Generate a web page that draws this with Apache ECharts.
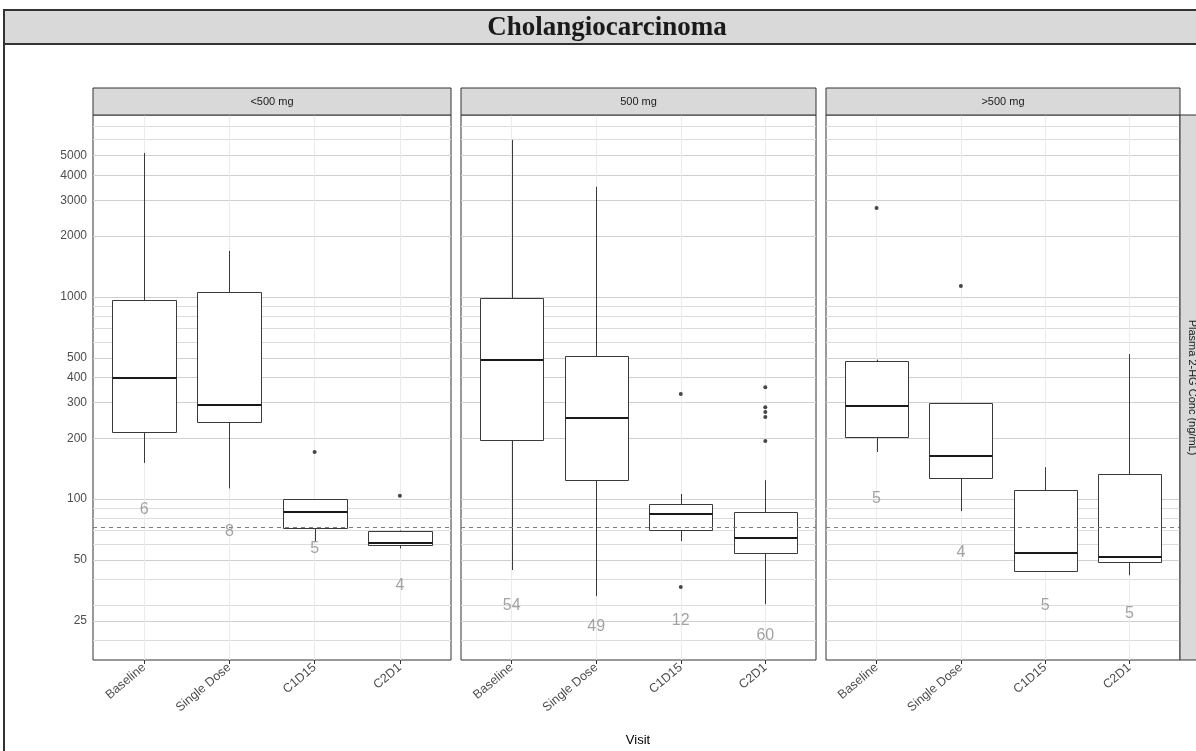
<!DOCTYPE html>
<html>
<head>
<meta charset="utf-8">
<script src="https://cdn.jsdelivr.net/npm/echarts@6/dist/echarts.min.js"></script>
<style>html,body{margin:0;padding:0;background:#fff}#c{width:1196px;height:751px}</style>
</head>
<body>
<div id="c"></div>
<script>
// ---- data ----
const visits = ['Baseline', 'Single Dose', 'C1D15', 'C2D1'];
const doseGroups = ['<500 mg', '500 mg', '>500 mg'];
const yTickLabels = [25, 50, 100, 200, 300, 400, 500, 1000, 2000, 3000, 4000, 5000];
const yGridBreaks = [20, 25, 30, 40, 50, 60, 70, 80, 90, 100, 200, 300, 400, 500, 600, 700, 800, 900, 1000, 2000, 3000, 4000, 5000, 6000, 7000];
const refLine = 73;
const yMin = 16, yMax = 7950;

// box stats per visit: [low whisker, Q1, median, Q3, high whisker]
const boxLt500 = [[151, 215, 397, 966, 5160], [113, 240, 292, 1060, 1690], [62, 72, 86, 100, 100], [57, 59.5, 61, 69.5, 70]];
const box500 = [[44.6, 196, 487, 990, 5990], [33.1, 124, 252, 511, 3510], [62, 70.2, 84.3, 94.5, 106], [30.2, 54, 64.1, 86.2, 124]];
const boxGt500 = [[171, 203, 289, 482, 490], [87.2, 127, 163, 299, 299], [44, 44, 54, 111, 144], [42, 48.8, 51.6, 133, 522]];

// outliers: [visit index, value]
const outLt500 = [[2, 171], [3, 104]];
const out500 = [[2, 331], [2, 36.7], [3, 358], [3, 285], [3, 270], [3, 255], [3, 194]];
const outGt500 = [[0, 2755], [1, 1133]];

// sample counts and the heights they are printed at
const nLt500 = [6, 8, 5, 4];
const nLt500Y = [89, 68.7, 56.6, 37.5];
const n500 = [54, 49, 12, 60];
const n500Y = [29.9, 23.3, 25.2, 21.2];
const nGt500 = [5, 4, 5, 5];
const nGt500Y = [101, 54.6, 29.9, 27.3];

const panels = [
  { box: boxLt500, out: outLt500, n: nLt500, ny: nLt500Y },
  { box: box500, out: out500, n: n500, ny: n500Y },
  { box: boxGt500, out: outGt500, n: nGt500, ny: nGt500Y }
];

// ---- layout ----
const gridPos = [{ left: 93, width: 358 }, { left: 461, width: 355 }, { left: 826, width: 354 }];
const gridTop = 115, gridH = 545;

const chart = echarts.init(document.getElementById('c'), null, { renderer: 'canvas' });

const crisp = v => Math.round(v) + 0.5;

const grids = [], xAxes = [], yAxes = [], series = [];
gridPos.forEach((g, i) => {
  grids.push({ left: g.left, width: g.width, top: gridTop, height: gridH, show: true,
    backgroundColor: '#fff', borderColor: '#333', borderWidth: 1, containLabel: false });
  xAxes.push({
    type: 'value', gridIndex: i, min: -0.6, max: 3.6,
    axisLine: { show: false },
    splitLine: { show: false },
    axisTick: { show: true, customValues: [0, 1, 2, 3], length: 4, lineStyle: { color: '#333' } },
    axisLabel: {
      customValues: [0, 1, 2, 3], rotate: 40, margin: 6,
      formatter: v => visits[Math.round(v)] || '',
      color: '#4d4d4d', fontSize: 12.5, fontFamily: 'Liberation Sans, Arial, sans-serif'
    }
  });
  yAxes.push({
    type: 'log', logBase: 10, gridIndex: i, min: yMin, max: yMax,
    axisLine: { show: false },
    splitLine: { show: false },
    minorSplitLine: { show: false },
    axisTick: { show: i === 0, customValues: yTickLabels, length: 4, lineStyle: { color: '#333' } },
    axisLabel: {
      show: i === 0, customValues: yTickLabels, margin: 6,
      formatter: v => String(Math.round(v)),
      color: '#4d4d4d', fontSize: 12, fontFamily: 'Liberation Sans, Arial, sans-serif'
    }
  });

  // gridlines
  const gl = yGridBreaks.map(v => ({
    yAxis: v,
    lineStyle: { color: yTickLabels.indexOf(v) >= 0 ? '#d0d0d0' : '#dcdcdc', width: 1, type: 'solid' }
  }));
  visits.forEach((_, k) => gl.push({ xAxis: k, lineStyle: { color: '#ebebeb', width: 1, type: 'solid' } }));
  series.push({
    type: 'line', xAxisIndex: i, yAxisIndex: i, data: [], z: 1, silent: true,
    markLine: { z: 1, silent: true, symbol: 'none', label: { show: false }, animation: false, data: gl }
  });

  // boxes
  const p = panels[i];
  series.push({
    type: 'custom', xAxisIndex: i, yAxisIndex: i, z: 3,
    data: p.box.map((b, k) => [k, b[0], b[1], b[2], b[3], b[4]]),
    encode: { x: 0, y: [1, 2, 3, 4, 5] },
    renderItem: function (params, api) {
      const x = api.value(0);
      const lo = api.coord([x, api.value(1)]);
      const q1 = api.coord([x, api.value(2)]);
      const md = api.coord([x, api.value(3)]);
      const q3 = api.coord([x, api.value(4)]);
      const hi = api.coord([x, api.value(5)]);
      const xl = crisp(api.coord([x - 0.375, api.value(3)])[0]);
      const xr = crisp(api.coord([x + 0.375, api.value(3)])[0]);
      const cx = crisp(lo[0]);
      const yq1 = crisp(q1[1]), yq3 = crisp(q3[1]);
      const st = { stroke: '#3a3a3a', lineWidth: 1, fill: null };
      return {
        type: 'group',
        children: [
          { type: 'line', z2: 1, shape: { x1: cx, y1: lo[1], x2: cx, y2: yq1 }, style: st },
          { type: 'line', z2: 1, shape: { x1: cx, y1: yq3, x2: cx, y2: hi[1] }, style: st },
          { type: 'rect', z2: 2, shape: { x: xl, y: yq3, width: xr - xl, height: yq1 - yq3 },
            style: { stroke: '#3a3a3a', lineWidth: 1, fill: '#fff' } },
          { type: 'line', z2: 3, shape: { x1: xl, y1: Math.round(md[1]), x2: xr, y2: Math.round(md[1]) },
            style: { stroke: '#1a1a1a', lineWidth: 2 } }
        ]
      };
    }
  });

  // reference dashed line (on top of boxes)
  series.push({
    type: 'line', xAxisIndex: i, yAxisIndex: i, data: [], z: 4, silent: true,
    markLine: { z: 4, silent: true, symbol: 'none', label: { show: false }, animation: false,
      data: [{ yAxis: refLine, lineStyle: { color: '#7f7f7f', width: 1, type: [4, 4] } }] }
  });

  // outliers
  series.push({
    type: 'scatter', xAxisIndex: i, yAxisIndex: i, z: 5, silent: true,
    symbolSize: 4, itemStyle: { color: '#1a1a1a' },
    data: p.out
  });

  // counts
  series.push({
    type: 'scatter', xAxisIndex: i, yAxisIndex: i, z: 6, silent: true,
    symbolSize: 0,
    data: p.n.map((n, k) => [k, p.ny[k], n]),
    label: { show: true, position: 'inside', formatter: d => String(d.value[2]),
      color: '#8c8c8c', fontSize: 16, fontFamily: 'Liberation Sans, Arial, sans-serif' }
  });
});

const graphics = [
  // outer frame
  { type: 'rect', shape: { x: 4, y: 10, width: 1230, height: 780 }, style: { fill: null, stroke: '#333', lineWidth: 2 }, z: 10 },
  // title strip
  { type: 'rect', shape: { x: 4, y: 10, width: 1230, height: 34 }, style: { fill: '#d9d9d9', stroke: '#333', lineWidth: 2 }, z: 9 },
  { type: 'text', x: 607, y: 28, z: 11,
    style: { text: 'Cholangiocarcinoma', align: 'center', verticalAlign: 'middle',
      font: 'bold 27px "Liberation Serif", "Times New Roman", serif', fill: '#1a1a1a' } },
  // right strip
  { type: 'rect', shape: { x: 1180, y: gridTop, width: 40, height: gridH }, style: { fill: '#d9d9d9', stroke: '#333', lineWidth: 1 }, z: 9 },
  { type: 'text', x: 1192, y: gridTop + gridH / 2, rotation: -Math.PI / 2, z: 11,
    style: { text: 'Plasma 2-HG Conc (ng/mL)', align: 'center', verticalAlign: 'middle',
      font: '11px "Liberation Sans", Arial, sans-serif', fill: '#1a1a1a' } },
  // x axis title
  { type: 'text', x: 638, y: 740, z: 11,
    style: { text: 'Visit', align: 'center', verticalAlign: 'middle',
      font: '13px "Liberation Sans", Arial, sans-serif', fill: '#000' } }
];
gridPos.forEach((g, i) => {
  graphics.push({ type: 'rect', shape: { x: g.left, y: 88, width: g.width, height: gridTop - 88 },
    style: { fill: '#d9d9d9', stroke: '#333', lineWidth: 1 }, z: 9 });
  graphics.push({ type: 'text', x: g.left + g.width / 2, y: 88 + (gridTop - 88) / 2, z: 11,
    style: { text: doseGroups[i], align: 'center', verticalAlign: 'middle',
      font: '11px "Liberation Sans", Arial, sans-serif', fill: '#1a1a1a' } });
});

chart.setOption({
  animation: false,
  backgroundColor: '#fff',
  grid: grids,
  xAxis: xAxes,
  yAxis: yAxes,
  series: series,
  graphic: graphics
});
</script>
</body>
</html>
